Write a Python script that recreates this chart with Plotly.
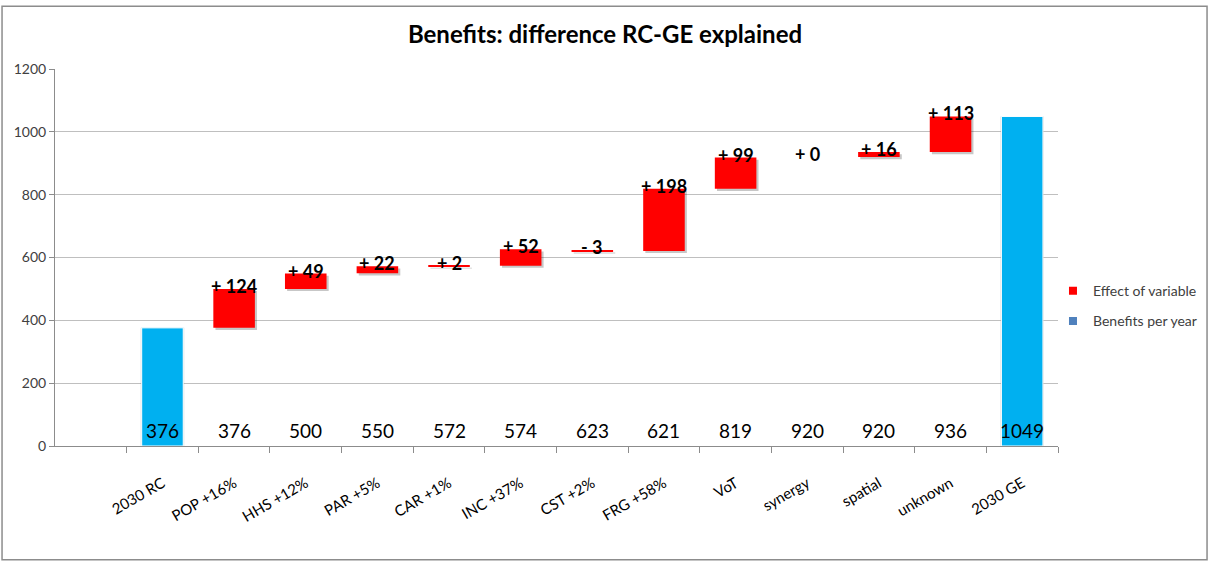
import plotly.graph_objects as go

# ---- data ----
categories = ["2030 RC", "POP +16%", "HHS +12%", "PAR +5%", "CAR +1%", "INC +37%",
              "CST +2%", "FRG +58%", "VoT", "synergy", "spatial", "unknown", "2030 GE"]
base_values = [376, 376, 500, 550, 572, 574, 623, 621, 819, 920, 920, 936, 1049]
effect_cats = categories[1:-1]
effect_base = [376, 500, 550, 572, 574, 623, 621, 819, 920, 920, 936]
effect_delta = [124, 49, 22, 2, 52, -3, 198, 99, 0, 16, 113]
total_cats = ["2030 RC", "2030 GE"]
total_vals = [376, 1049]
y_ticks = [0, 200, 400, 600, 800, 1000, 1200]

FONT = "Lato, Carlito, Calibri, sans-serif"
RED = "#FF0000"
BLUE = "#00B0F0"
BW = 0.58

fig = go.Figure()

# shadows
fig.add_trace(go.Bar(x=effect_cats, y=effect_delta, base=[b - 7 for b in effect_base],
                     width=BW, offset=-BW / 2 + 0.03,
                     marker=dict(color="rgba(0,0,0,0.22)", line=dict(width=0)),
                     showlegend=False, hoverinfo="skip"))
fig.add_trace(go.Bar(x=total_cats, y=total_vals, width=BW + 0.03, offset=-BW / 2 - 0.015,
                     marker=dict(color="rgba(0,0,0,0.12)", line=dict(width=0)),
                     showlegend=False, hoverinfo="skip"))

# red effect bars
fig.add_trace(go.Bar(x=effect_cats, y=effect_delta, base=effect_base,
                     width=BW, offset=-BW / 2,
                     marker=dict(color=RED, line=dict(width=0)),
                     showlegend=False, name="Effect of variable"))
# blue totals
fig.add_trace(go.Bar(x=total_cats, y=total_vals, width=BW, offset=-BW / 2,
                     marker=dict(color=BLUE, line=dict(color="white", width=1)),
                     showlegend=False, name="Benefits per year"))

# legend entries
fig.add_trace(go.Scatter(x=[None], y=[None], mode="markers", name="Effect of variable",
                         legendgroup="a",
                         marker=dict(symbol="square", size=8, color=RED)))
fig.add_trace(go.Scatter(x=[None], y=[None], mode="markers", name="Benefits per year",
                         legendgroup="b",
                         marker=dict(symbol="square", size=8, color="#4F81BD")))

annotations = []
# effect labels
for c, b, d in zip(effect_cats, effect_base, effect_delta):
    sign = "+" if d >= 0 else "-"
    top = max(b, b + d)
    annotations.append(dict(x=c, y=top, xref="x", yref="y", text=f"<b>{sign} {abs(d)}</b>",
                            showarrow=False, yanchor="middle", yshift=3,
                            font=dict(family=FONT, size=18, color="black")))
# bottom value labels
for c, v in zip(categories, base_values):
    annotations.append(dict(x=c, y=0, xref="x", yref="y", text=str(v), showarrow=False,
                            yanchor="middle", yshift=16,
                            font=dict(family=FONT, size=19, color="black")))

fig.update_layout(
    width=1210, height=563,
    margin=dict(l=55, r=152, t=69, b=117, autoexpand=False),
    paper_bgcolor="white", plot_bgcolor="white",
    barmode="overlay",
    title=dict(text="<b>Benefits: difference RC-GE explained</b>", x=0.5, xref="container",
               xanchor="center", y=0.938, yanchor="middle",
               font=dict(family=FONT, size=24, color="black")),
    font=dict(family=FONT, size=14, color="#404040"),
    xaxis=dict(type="category", categoryorder="array", categoryarray=categories,
               range=[-1.5, 12.5], tickson="boundaries", ticks="outside", ticklen=6,
               tickcolor="#8c8c8c", showline=True, linecolor="#8c8c8c", showgrid=False,
               tickangle=-30, ticklabelstandoff=22, automargin=False,
               tickfont=dict(family=FONT, size=15, color="black"),
               fixedrange=True),
    yaxis=dict(range=[0, 1200], tickvals=y_ticks, ticks="outside", ticklen=5,
               tickcolor="#8c8c8c", showline=True, linecolor="#8c8c8c", automargin=False,
               showgrid=True, gridcolor="#BFBFBF", gridwidth=1, zeroline=False,
               tickfont=dict(family=FONT, size=14, color="#404040")),
    legend=dict(x=0.995, xanchor="left", y=0.371, yanchor="middle",
                traceorder="grouped", tracegroupgap=9,
                font=dict(family=FONT, size=14, color="#404040"),
                bgcolor="rgba(0,0,0,0)"),
    annotations=annotations,
    shapes=[dict(type="rect", xref="paper", yref="paper",
                 x0=-0.0528, x1=1.1486, y0=-0.3016, y1=1.1667,
                 line=dict(color="#8c8c8c", width=1.5), fillcolor="rgba(0,0,0,0)",
                 layer="below")],
)

fig.write_html("out.html", config={"displayModeBar": False},
               post_script="document.body.style.margin='0';document.body.style.overflow='hidden';")
